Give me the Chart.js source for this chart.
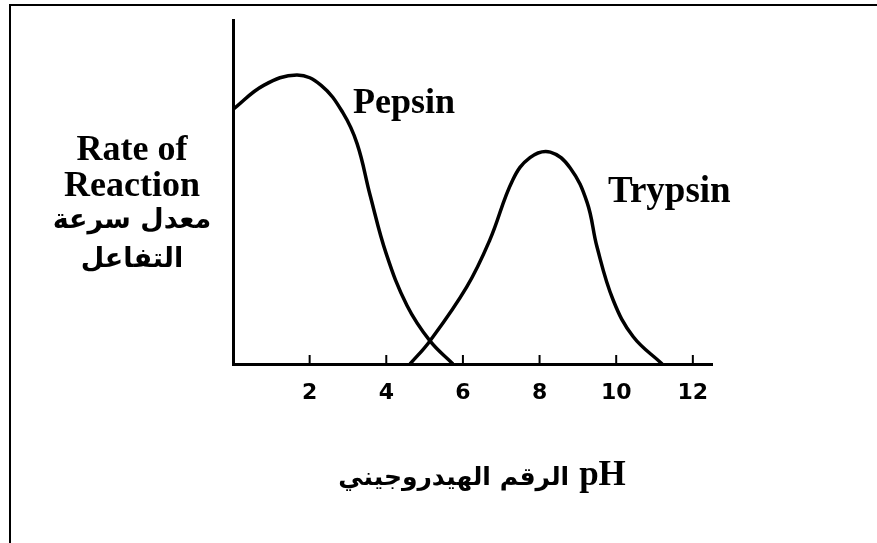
<!DOCTYPE html>
<html>
<head>
<meta charset="utf-8">
<script src="https://cdn.jsdelivr.net/npm/chart.js@4.4.1/dist/chart.umd.min.js"></script>
<style>
  html, body { margin: 0; padding: 0; background: #fff; overflow: hidden; }
  #wrap { position: relative; width: 877px; height: 543px; }
  #frame { position: absolute; left: 9px; top: 4px; width: 900px; height: 600px;
           border-left: 2px solid #000; border-top: 2px solid #000; }
  .lbl { position: absolute; white-space: nowrap; color: #000; line-height: 1; }
  .en { font-family: "Liberation Serif", "Times New Roman", serif; font-weight: bold; }
  .ar { font-family: "DejaVu Sans", sans-serif; font-weight: bold; }
  .yt { left: 32px; width: 200px; text-align: center; }
</style>
</head>
<body>
<div id="wrap">
  <canvas id="chart" width="877" height="543"></canvas>
  <div id="frame"></div>
  <div class="lbl en yt" style="top:130px;font-size:36px">Rate of</div>
  <div class="lbl en yt" style="top:166px;font-size:36px">Reaction</div>
  <div class="lbl ar yt" style="top:205px;font-size:27px" dir="rtl">معدل سرعة</div>
  <div class="lbl ar yt" style="top:244px;font-size:27px" dir="rtl">التفاعل</div>
  <div class="lbl en" style="left:353px;top:83px;font-size:36px">Pepsin</div>
  <div class="lbl en" style="left:608px;top:171px;font-size:37px">Trypsin</div>
  <div class="lbl" style="left:282px;width:400px;top:456px;text-align:center" dir="rtl"><span class="en" style="font-size:35px">pH</span><span class="ar" style="font-size:25px;margin-right:10px">الرقم الهيدروجيني</span></div>
</div>
<script>
// pH values and reaction rate (rate in arbitrary units, axis top = 100)
const pepsinPH = [0, 0.8, 1.67, 2.3, 2.87, 3.24, 3.58, 4.0, 4.54, 5.14, 5.74];
const pepsinRate = [74, 81, 84, 81, 73, 64, 49, 32, 17, 6.7, 0];
const trypsinPH = [4.62, 5.14, 6.1, 6.7, 7.3, 7.75, 8.28, 8.8, 9.24, 9.5, 9.92, 10.44, 11.2];
const trypsinRate = [0, 6.7, 22.4, 36, 53.5, 60, 61.6, 57, 47, 34, 18.6, 8, 0];
const phTicks = [2, 4, 6, 8, 10, 12];

function toPoints(xs, ys) {
  return xs.map((x, i) => ({ x: x, y: ys[i] }));
}

// small tick marks standing up from the x axis
const upTicks = {
  id: "upTicks",
  afterDraw(chart) {
    const ctx = chart.ctx;
    const xScale = chart.scales.x;
    const bottom = chart.chartArea.bottom;
    ctx.save();
    ctx.strokeStyle = "#000";
    ctx.lineWidth = 2;
    for (const t of phTicks) {
      const px = xScale.getPixelForValue(t);
      ctx.beginPath();
      ctx.moveTo(px, bottom);
      ctx.lineTo(px, bottom - 9);
      ctx.stroke();
    }
    ctx.restore();
  },
};

new Chart(document.getElementById("chart"), {
  type: "line",
  data: {
    datasets: [
      {
        label: "Pepsin",
        data: toPoints(pepsinPH, pepsinRate),
        borderColor: "#000",
        borderWidth: 3.5,
        pointRadius: 0,
        tension: 0.4,
        fill: false,
      },
      {
        label: "Trypsin",
        data: toPoints(trypsinPH, trypsinRate),
        borderColor: "#000",
        borderWidth: 3.5,
        pointRadius: 0,
        tension: 0.4,
        fill: false,
      },
    ],
  },
  options: {
    responsive: false,
    animation: false,
    layout: { padding: { left: 233, right: 165, top: 20, bottom: 119 } },
    plugins: { legend: { display: false }, tooltip: { enabled: false } },
    scales: {
      x: {
        type: "linear",
        min: 0,
        max: 12.5,
        afterBuildTicks: (scale) => { scale.ticks = phTicks.map((v) => ({ value: v })); },
        afterFit: (scale) => { scale.height = 60; },
        grid: { display: false, drawTicks: false },
        border: { display: true, color: "#000", width: 3 },
        ticks: {
          padding: 16,
          color: "#000",
          font: { family: "DejaVu Sans", weight: "bold", size: 22 },
        },
      },
      y: {
        min: 0,
        max: 100,
        afterFit: (scale) => { scale.width = 0; },
        grid: { display: false, drawTicks: false },
        border: { display: true, color: "#000", width: 3 },
        ticks: { display: false },
      },
    },
  },
  plugins: [upTicks],
});
</script>
</body>
</html>
